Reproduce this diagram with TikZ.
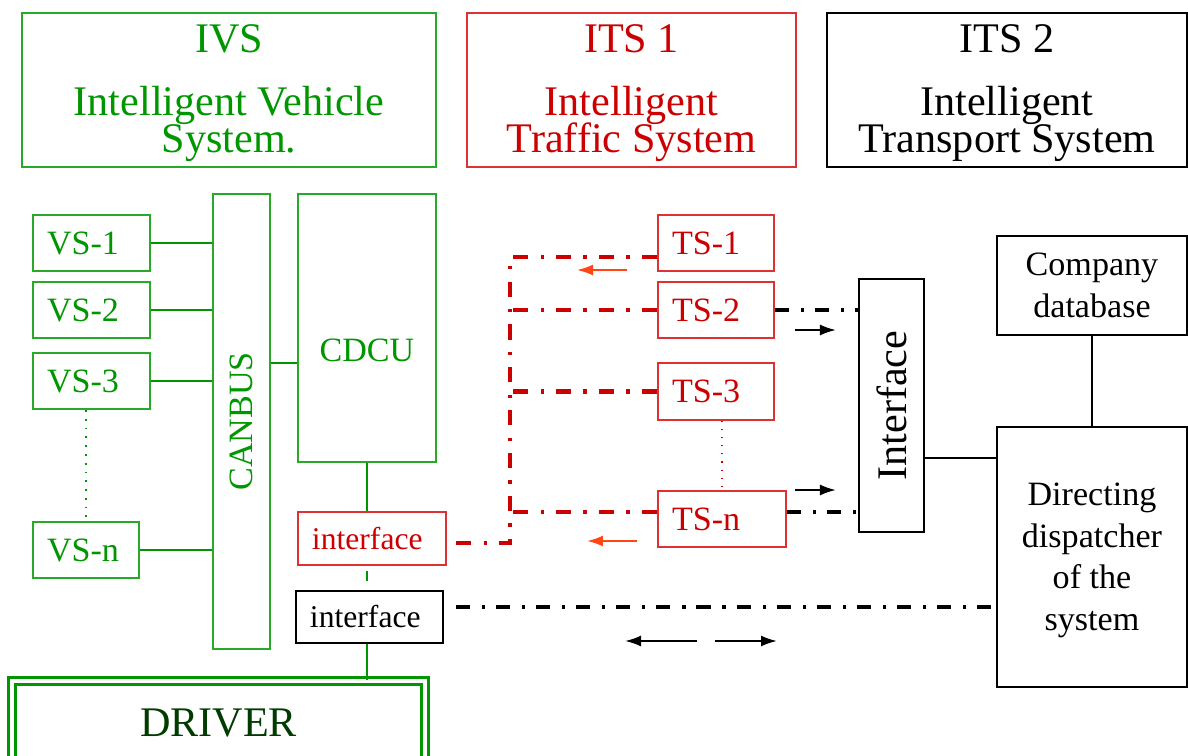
\documentclass[tikz,border=0pt]{standalone}
\usepackage{fontspec}
\setmainfont{Liberation Serif}
\usetikzlibrary{arrows.meta}
\definecolor{ivsgreen}{RGB}{0,150,0}
\definecolor{ivsframe}{RGB}{40,170,40}
\definecolor{itsred}{RGB}{204,0,0}
\definecolor{itsframe}{RGB}{222,50,50}
\definecolor{flowred}{RGB}{255,70,20}
\definecolor{drvgreen}{RGB}{0,60,0}

\begin{document}
\begin{tikzpicture}[
    big/.style={font=\fontsize{12}{14}\selectfont},
    small/.style={font=\fontsize{9.7}{11.9}\selectfont},
    gbox/.style={draw=ivsframe, line width=0.6pt, text=ivsgreen, inner sep=0pt},
    rbox/.style={draw=itsframe, line width=0.6pt, text=itsred, inner sep=0pt},
    kbox/.style={draw=black, line width=0.6pt, inner sep=0pt},
    title/.style={big, align=center, minimum height=1.54cm},
    lbox/.style={small, minimum height=0.56cm, inner xsep=0.14cm, align=left},
    gline/.style={draw=ivsgreen, line width=0.5pt},
    tsline/.style={draw=itsred, line width=1.2pt, dash pattern=on 4.3pt off 3.5pt on 0.9pt off 3.5pt},
    itsline/.style={draw=black, line width=1.1pt, dash pattern=on 4pt off 3.4pt on 0.9pt off 3.1pt},
    flow/.style={line width=0.6pt, -{Latex[length=0.16cm,width=0.11cm]}}
  ]
  \useasboundingbox (0,0) rectangle (11.88,7.55);
  \clip (0,0) rectangle (11.88,7.55);

  % headers
  \node[gbox, title, minimum width=4.14cm] (ivs) at (2.29,6.65)
    {\strut IVS\\[3.9pt]Intelligent Vehicle\\[-3.5pt]System.};
  \node[rbox, title, minimum width=3.29cm] (its1) at (6.315,6.65)
    {\strut ITS 1\\[3.9pt]Intelligent\\[-3.5pt]Traffic System};
  \node[kbox, title, minimum width=3.60cm] (its2) at (10.07,6.65)
    {\strut ITS 2\\[3.9pt]Intelligent\\[-3.5pt]Transport System};

  % vehicle side
  \node[gbox, lbox, text width=0.89cm] (vs1) at (0.915,5.12) {VS-1};
  \node[gbox, lbox, text width=0.89cm] (vs2) at (0.915,4.45) {VS-2};
  \node[gbox, lbox, text width=0.89cm] (vs3) at (0.915,3.74) {VS-3};
  \node[gbox, lbox, text width=0.78cm] (vsn) at (0.86,2.05) {VS-n};
  \node[gbox, minimum width=0.57cm, minimum height=4.55cm,
    label={[rotate=90, small, text=ivsgreen]center:CANBUS}] (bus) at (2.415,3.335) {};
  \node[gbox, minimum width=1.38cm, minimum height=2.68cm,
    label={[yshift=-0.22cm, small, text=ivsgreen]center:CDCU}] (cdcu) at (3.67,4.27) {};
  \node[rbox, lbox, font=\fontsize{9}{11}\selectfont, minimum height=0.53cm, text width=1.20cm] (ri) at (3.72,2.165) {interface};
  \node[kbox, lbox, font=\fontsize{9}{11}\selectfont, minimum height=0.52cm, text width=1.19cm] (bi) at (3.695,1.38) {interface};
  \node[draw=ivsgreen, line width=0.9pt, double=white, double distance=1pt,
    minimum width=4.13cm, minimum height=0.835cm, big, text=drvgreen] (drv) at (2.185,0.32) {DRIVER};

  \draw[gline] (vs1.east) -- (vs1.east -| bus.west);
  \draw[gline] (vs2.east) -- (vs2.east -| bus.west);
  \draw[gline] (vs3.east) -- (vs3.east -| bus.west);
  \draw[gline] (vsn.east) -- (vsn.east -| bus.west);
  \draw[gline, dotted] (vsn.north |- vs3.south) -- (vsn.north);
  \coordinate (cdl) at ([yshift=-0.35cm]cdcu.west);
  \draw[gline] (cdl) -- (cdl -| bus.east);
  \draw[gline] (cdcu.south) -- (cdcu.south |- ri.north);
  \draw[gline, shorten <=0.05cm, shorten >=0.09cm] (cdcu.south |- ri.south) -- (cdcu.south |- bi.north);
  \draw[gline] (cdcu.south |- bi.south) -- (cdcu.south |- drv.north);

  % traffic side
  \node[rbox, lbox, text width=0.88cm] (ts1) at (7.16,5.12) {TS-1};
  \node[rbox, lbox, text width=0.88cm] (ts2) at (7.16,4.45) {TS-2};
  \node[rbox, lbox, minimum height=0.57cm, text width=0.88cm] (ts3) at (7.16,3.635) {TS-3};
  \node[rbox, lbox, text width=1.00cm] (tsn) at (7.22,2.36) {TS-n};
  \draw[draw=itsred, line width=0.3pt, dotted] ([xshift=0.06cm]ts3.south) -- ([xshift=0.06cm]ts3.south |- tsn.north);

  \coordinate (rb) at (5.10,4.98);
  \coordinate (ts1l) at ([yshift=-0.14cm]ts1.west);
  \coordinate (tsnl) at ([yshift=0.07cm]tsn.west);
  \coordinate (ril) at ([yshift=-0.045cm]ri.east);
  \draw[tsline] (ts1l) -- (rb) |- (ril);
  \draw[tsline] (ts2.west) -- (ts2.west -| rb);
  \draw[tsline] (ts3.west) -- (ts3.west -| rb);
  \draw[tsline] (tsnl) -- (tsnl -| rb);

  % transport side
  \node[kbox, minimum width=0.65cm, minimum height=2.53cm,
    label={[rotate=90, big]center:Interface}] (iface) at (8.915,3.495) {};
  \node[kbox, small, align=center, minimum width=1.90cm, minimum height=0.99cm] (db) at (10.92,4.695)
    {Company\\database};
  \node[kbox, small, align=center, minimum width=1.90cm, minimum height=2.60cm] (dsp) at (10.92,1.98)
    {\strut Directing\\dispatcher\\of the\\system};
  \draw[line width=0.5pt] (db.south) -- (dsp.north);
  \coordinate (ifr) at ([yshift=-0.525cm]iface.east);
  \draw[line width=0.5pt] (ifr) -- (ifr -| dsp.west);

  \coordinate (tsnr) at ([yshift=0.07cm]tsn.east);
  \coordinate (bir) at ([xshift=0.12cm,yshift=0.10cm]bi.east);
  \draw[itsline] (ts2.east) -- (ts2.east -| iface.west);
  \draw[itsline] (tsnr) -- (tsnr -| iface.west);
  \draw[itsline] (bir) -- (bir -| dsp.west);

  % direction marks
  \draw[flow, flowred] (6.27,4.85) -- (5.77,4.85);
  \draw[flow, flowred] (6.37,2.14) -- (5.87,2.14);
  \draw[flow] (7.95,4.25) -- (8.36,4.25);
  \draw[flow] (7.95,2.65) -- (8.36,2.65);
  \draw[flow] (6.97,1.14) -- (6.25,1.14);
  \draw[flow] (7.15,1.14) -- (7.77,1.14);
\end{tikzpicture}
\end{document}
